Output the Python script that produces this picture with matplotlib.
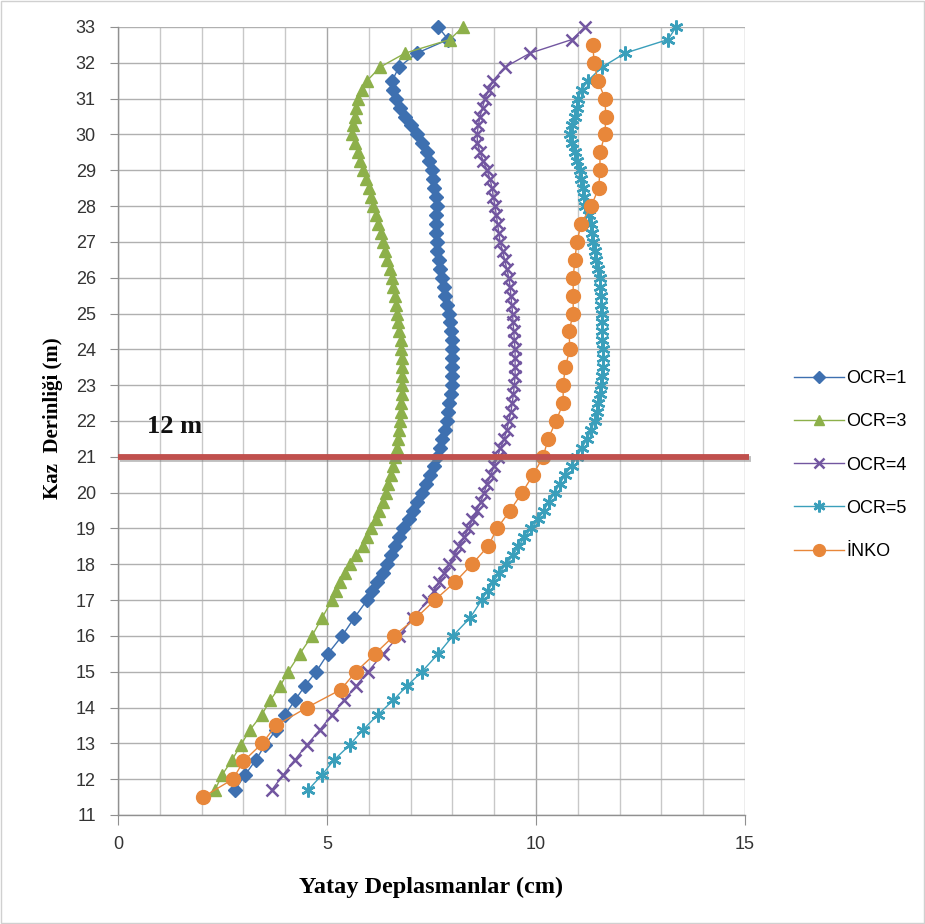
import matplotlib
matplotlib.use("Agg")
import matplotlib.pyplot as plt
import matplotlib.patheffects as pe
from matplotlib.patches import Rectangle
from matplotlib.ticker import MultipleLocator

# ---------------- data ----------------
depth_ocr = [11.7, 12.12, 12.54, 12.96, 13.38, 13.8, 14.2, 14.6, 15.0, 15.5, 16.0, 16.5,
             17.0, 17.25, 17.5, 17.75, 18.0, 18.25, 18.5, 18.75, 19.0, 19.25, 19.5, 19.75,
             20.0, 20.25, 20.5, 20.75, 21.0, 21.25, 21.5, 21.75, 22.0, 22.25, 22.5, 22.75,
             23.0, 23.25, 23.5, 23.75, 24.0, 24.25, 24.5, 24.75, 25.0, 25.25, 25.5, 25.75,
             26.0, 26.25, 26.5, 26.75, 27.0, 27.25, 27.5, 27.75, 28.0, 28.25, 28.5, 28.75,
             29.0, 29.25, 29.5, 29.75, 30.0, 30.25, 30.5, 30.75, 31.0, 31.25, 31.5,
             31.88, 32.27, 32.65, 33.0]

ocr1 = [2.8, 3.04, 3.3, 3.52, 3.78, 4.0, 4.23, 4.47, 4.74, 5.02, 5.36, 5.65,
        5.96, 6.08, 6.2, 6.33, 6.43, 6.52, 6.62, 6.72, 6.82, 6.96, 7.05, 7.15,
        7.27, 7.38, 7.47, 7.55, 7.63, 7.7, 7.76, 7.82, 7.87, 7.9, 7.93, 7.96,
        7.98, 7.99, 8.0, 8.0, 7.99, 7.98, 7.96, 7.94, 7.91, 7.87, 7.83, 7.79,
        7.74, 7.7, 7.67, 7.64, 7.62, 7.61, 7.6, 7.61, 7.62, 7.6, 7.57, 7.54,
        7.5, 7.45, 7.39, 7.28, 7.15, 7.0, 6.86, 6.74, 6.64, 6.58, 6.56,
        6.72, 7.15, 7.9, 7.66]

ocr3 = [2.32, 2.49, 2.73, 2.94, 3.16, 3.44, 3.64, 3.88, 4.07, 4.35, 4.64, 4.88,
        5.12, 5.22, 5.31, 5.42, 5.55, 5.7, 5.85, 5.95, 6.05, 6.17, 6.25, 6.33,
        6.4, 6.46, 6.52, 6.58, 6.62, 6.67, 6.7, 6.73, 6.75, 6.77, 6.78, 6.8,
        6.8, 6.8, 6.79, 6.79, 6.78, 6.76, 6.73, 6.7, 6.68, 6.65, 6.62, 6.59,
        6.56, 6.5, 6.44, 6.39, 6.35, 6.28, 6.22, 6.16, 6.1, 6.05, 6.0, 5.93,
        5.87, 5.8, 5.74, 5.66, 5.6, 5.62, 5.66, 5.7, 5.75, 5.84, 5.96,
        6.27, 6.87, 7.94, 8.25]

ocr4 = [3.68, 3.95, 4.23, 4.52, 4.83, 5.12, 5.41, 5.69, 5.98, 6.34, 6.72, 7.06,
        7.42, 7.55, 7.67, 7.8, 7.93, 8.05, 8.15, 8.28, 8.38, 8.48, 8.58, 8.68,
        8.76, 8.83, 8.92, 9.0, 9.08, 9.15, 9.24, 9.3, 9.35, 9.4, 9.43, 9.46,
        9.48, 9.5, 9.5, 9.5, 9.5, 9.48, 9.47, 9.45, 9.44, 9.42, 9.4, 9.38,
        9.35, 9.3, 9.25, 9.2, 9.14, 9.11, 9.08, 9.05, 9.02, 8.98, 8.95, 8.9,
        8.83, 8.74, 8.66, 8.6, 8.59, 8.62, 8.66, 8.72, 8.78, 8.87, 8.97,
        9.26, 9.86, 10.86, 11.17]

ocr5 = [4.55, 4.88, 5.17, 5.55, 5.86, 6.22, 6.58, 6.91, 7.27, 7.66, 8.01, 8.42,
        8.7, 8.84, 8.97, 9.12, 9.28, 9.45, 9.58, 9.72, 9.88, 10.05, 10.18, 10.32,
        10.45, 10.57, 10.7, 10.85, 10.98, 11.1, 11.22, 11.32, 11.4, 11.45, 11.48, 11.52,
        11.56, 11.58, 11.6, 11.6, 11.6, 11.59, 11.59, 11.58, 11.57, 11.56, 11.55, 11.54,
        11.52, 11.48, 11.44, 11.4, 11.36, 11.35, 11.32, 11.26, 11.18, 11.15, 11.12, 11.08,
        11.05, 10.99, 10.93, 10.86, 10.81, 10.86, 10.93, 10.97, 11.0, 11.1, 11.24,
        11.58, 12.13, 13.16, 13.35]

depth_inko = [11.5, 12.0, 12.5, 13.0, 13.5, 14.0, 14.5, 15.0, 15.5, 16.0, 16.5, 17.0,
              17.5, 18.0, 18.5, 19.0, 19.5, 20.0, 20.5, 21.0, 21.5, 22.0, 22.5, 23.0,
              23.5, 24.0, 24.5, 25.0, 25.5, 26.0, 26.5, 27.0, 27.5, 28.0, 28.5, 29.0,
              29.5, 30.0, 30.5, 31.0, 31.5, 32.0, 32.5]
inko = [2.03, 2.75, 3.0, 3.45, 3.78, 4.52, 5.33, 5.69, 6.15, 6.6, 7.13, 7.58,
        8.06, 8.47, 8.85, 9.07, 9.38, 9.67, 9.93, 10.17, 10.29, 10.48, 10.65, 10.65,
        10.7, 10.81, 10.79, 10.89, 10.89, 10.89, 10.93, 10.98, 11.08, 11.32, 11.5, 11.53,
        11.53, 11.65, 11.67, 11.65, 11.48, 11.39, 11.36]

excavation_depth = 21.0
excavation_label = "12 m"

series_names = ["OCR=1", "OCR=3", "OCR=4", "OCR=5", "İNKO"]

# ---------------- figure ----------------
fig = plt.figure(figsize=(9.25, 9.24), dpi=100)
ax = fig.add_axes([0.1276, 0.118, 0.8054 - 0.1276, 0.9708 - 0.118])

c_blue = "#3e70b0"
c_green = "#8db04a"
c_purple = "#7256a0"
c_cyan = "#3a9fbb"
c_orange = "#e8873a"

common = dict(lw=1.0, clip_on=False)
ax.plot(ocr1, depth_ocr, color=c_blue, marker="D", ms=7, mfc=c_blue, mec=c_blue,
        label=series_names[0], zorder=3, **common)
ax.plot(ocr3, depth_ocr, color=c_green, marker="^", ms=9, mfc=c_green, mec=c_green,
        label=series_names[1], zorder=3, **common)
ax.plot(ocr4, depth_ocr, color=c_purple, marker="x", ms=9, mew=1.8, mec=c_purple,
        label=series_names[2], zorder=3, **common)
ax.plot(ocr5, depth_ocr, color=c_cyan, marker=(6, 2, 0), ms=10, mew=1.8, mec=c_cyan,
        label=series_names[3], zorder=3, **common)
ax.plot(inko, depth_inko, color=c_orange, marker="o", ms=10, mfc=c_orange, mec=c_orange,
        label=series_names[4], zorder=4, **common)

# excavation line
ax.plot([0, 15.1], [excavation_depth, excavation_depth], color="#c0504d", lw=4.2,
        solid_capstyle="butt", clip_on=False, zorder=5,
        path_effects=[pe.SimpleLineShadow(offset=(1.5, -1.5), shadow_color="gray", alpha=0.5),
                      pe.Normal()])
ax.text(0.7, 21.66, excavation_label, fontsize=19, fontweight="bold",
        family="Liberation Serif", color="#111111", zorder=6)

ax.set_xlim(0, 15)
ax.set_ylim(11, 33)
ax.xaxis.set_major_locator(MultipleLocator(5))
ax.xaxis.set_minor_locator(MultipleLocator(1))
ax.yaxis.set_major_locator(MultipleLocator(1))

ax.grid(which="major", axis="x", color="#a6a6a6", lw=1.0)
ax.grid(which="minor", axis="x", color="#c8c8c8", lw=1.0)
ax.grid(which="major", axis="y", color="#b0b0b0", lw=1.0)
ax.set_axisbelow(True)

for s in ["top", "right"]:
    ax.spines[s].set_visible(False)
for s in ["left", "bottom"]:
    ax.spines[s].set_color("#909090")
    ax.spines[s].set_linewidth(1.0)

ax.tick_params(axis="y", which="major", direction="out", length=6, color="#909090",
               labelsize=13, pad=10)
ax.tick_params(axis="x", which="major", direction="out", length=7, color="#909090",
               labelsize=13, pad=8)
ax.tick_params(axis="x", which="minor", length=0)
for lab in ax.get_xticklabels() + ax.get_yticklabels():
    lab.set_family("Liberation Sans")
    lab.set_color("#333333")

ax.set_xlabel("Yatay Deplasmanlar (cm)", fontsize=17.5, fontweight="bold",
              family="Liberation Serif", labelpad=17)
ax.set_ylabel("Kaz  Derinliği (m)", fontsize=15, fontweight="bold",
              family="Liberation Serif", labelpad=10)
ax.yaxis.set_label_coords(-0.088, (815 - 418) / 788)

leg = ax.legend(loc="center left", bbox_to_anchor=(1.052, 0.444), frameon=False,
                prop={"family": "Liberation Sans", "size": 13}, labelspacing=1.45,
                handlelength=2.8, handletextpad=0.1, markerscale=0.85)

# figure border
fig.patches.append(Rectangle((0.001, 0.001), 0.998, 0.998, transform=fig.transFigure,
                             fill=False, edgecolor="#d0d0d0", lw=1.0))

fig.savefig("out.png", dpi=100)
